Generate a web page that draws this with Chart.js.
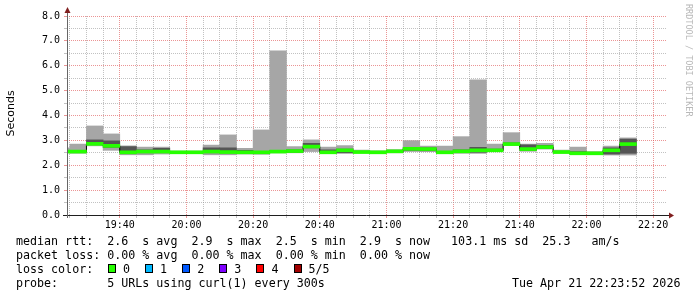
<!DOCTYPE html>
<html><head><meta charset="utf-8">
<script src="https://cdn.jsdelivr.net/npm/chart.js@4/dist/chart.umd.min.js"></script>
<style>
html,body{margin:0;padding:0;background:#fff;}
#wrap{position:relative;width:697px;height:297px;overflow:hidden;background:#fff;}
#c{position:absolute;left:0;top:0;}
.lg{position:absolute;left:16px;font-family:'DejaVu Sans Mono',monospace;font-size:11.66px;line-height:14px;white-space:pre;color:#000;}
.box{position:absolute;width:6px;height:7px;border:1px solid #000;}
</style></head><body>
<div id="wrap">
<canvas id="c" width="697" height="297"></canvas>
<div id="legend"></div>
</div>
<script>
// ---- data ----
const binStarts = ['19:20','19:25','19:30','19:35','19:40','19:45','19:50','19:55','20:00','20:05',
  '20:10','20:15','20:20','20:25','20:30','20:35','20:40','20:45','20:50','20:55',
  '21:00','21:05','21:10','21:15','21:20','21:25','21:30','21:35','21:40','21:45',
  '21:50','21:55','22:00','22:05','22:10'];
const pingMin    = [2.50,2.48,2.78,2.60,2.42,2.42,2.45,2.50,2.50,2.42, 2.42,2.45,2.44,2.50,2.50,2.55,2.48,2.48,2.50,2.50, 2.50,2.55,2.55,2.48,2.48,2.48,2.57,2.80,2.56,2.65, 2.50,2.45,2.45,2.41,2.41];
const pingLow    = [2.52,2.52,2.84,2.72,2.50,2.50,2.52,2.51,2.51,2.50, 2.50,2.50,2.48,2.52,2.52,2.70,2.50,2.50,2.51,2.51, 2.52,2.60,2.58,2.50,2.52,2.52,2.58,2.82,2.60,2.68, 2.50,2.46,2.46,2.45,2.48];
const pingMedian = [2.55,2.55,2.86,2.78,2.52,2.55,2.55,2.52,2.52,2.55, 2.53,2.52,2.52,2.55,2.57,2.75,2.52,2.60,2.53,2.52, 2.56,2.66,2.65,2.52,2.56,2.60,2.60,2.85,2.65,2.73, 2.53,2.48,2.48,2.60,2.85];
const pingHigh   = [2.60,2.60,3.02,2.98,2.75,2.62,2.68,2.55,2.55,2.70, 2.70,2.60,2.56,2.60,2.62,2.88,2.62,2.65,2.56,2.55, 2.60,2.70,2.70,2.56,2.62,2.72,2.65,2.90,2.82,2.80, 2.56,2.55,2.50,2.70,3.05];
const pingMax    = [2.70,2.85,3.58,3.26,2.78,2.73,2.73,2.57,2.57,2.81, 3.22,2.68,3.42,6.60,2.75,3.02,2.73,2.79,2.61,2.58, 2.63,2.99,2.77,2.77,3.15,5.43,2.85,3.31,2.85,2.88, 2.61,2.73,2.55,2.77,3.10];
const xTickLabels = ['19:40','20:00','20:20','20:40','21:00','21:20','21:40','22:00','22:20'];
const yTickLabels = ['0.0','1.0','2.0','3.0','4.0','5.0','6.0','7.0','8.0'];
const viewStart = '19:24:10', viewEnd = '22:24:10';
const statLine1 = 'median rtt:  2.6  s avg  2.9  s max  2.5  s min  2.9  s now   103.1 ms sd  25.3   am/s';
const statLine2 = 'packet loss: 0.00 % avg  0.00 % max  0.00 % min  0.00 % now';
const lossLabels = ['0','1','2','3','4','5/5'];
const lossColors = ['#26ff00','#00b8ff','#0059ff','#7e00ff','#ff0000','#a10000'];
const probeText = 'probe:       5 URLs using curl(1) every 300s';
const dateText = 'Tue Apr 21 22:23:52 2026';

// ---- helpers ----
const toMin = s => { const p = s.split(':').map(Number); return (p[0]-19)*60 + p[1] + (p[2]||0)/60; };
const BIN = 5;
const centers = binStarts.map(s => toMin(s) + BIN/2);
const BAND = 0.06;
const MAJOR_RED = 'rgba(222,79,79,0.6)';
const MINOR_GRAY = 'rgba(143,143,143,0.55)';

const barCommon = {type:'bar', grouped:false, barPercentage:1, categoryPercentage:1, borderWidth:0};

const decor = {
  id:'decor',
  afterDraw(chart){
    const ctx = chart.ctx, a = chart.chartArea;
    ctx.save();
    ctx.lineWidth = 1;
    ctx.strokeStyle = '#1f1f1f';
    ctx.beginPath(); ctx.moveTo(a.left-4, a.bottom+0.5); ctx.lineTo(a.right+3, a.bottom+0.5); ctx.stroke();
    ctx.strokeStyle = '#666';
    ctx.beginPath(); ctx.moveTo(a.left+0.5, a.bottom+3); ctx.lineTo(a.left+0.5, a.top-4); ctx.stroke();
    ctx.fillStyle = 'rgb(128,31,31)';
    ctx.beginPath(); ctx.moveTo(a.left-2.5, a.top-3); ctx.lineTo(a.left+3.5, a.top-3); ctx.lineTo(a.left+0.5, a.top-9); ctx.closePath(); ctx.fill();
    ctx.beginPath(); ctx.moveTo(a.right+2, a.bottom-2.5); ctx.lineTo(a.right+2, a.bottom+3.5); ctx.lineTo(a.right+7, a.bottom+0.5); ctx.closePath(); ctx.fill();
    ctx.fillStyle = '#000';
    ctx.font = '11px "DejaVu Sans"';
    ctx.textAlign = 'center'; ctx.textBaseline = 'middle';
    ctx.translate(11, 113.5); ctx.rotate(-Math.PI/2);
    ctx.fillText('Seconds', 0, 0);
    ctx.restore();
    ctx.save();
    ctx.fillStyle = '#b8b8b8';
    ctx.font = '8.5px "DejaVu Sans Mono"';
    ctx.textAlign = 'left'; ctx.textBaseline = 'middle';
    ctx.translate(688, 4); ctx.rotate(Math.PI/2);
    ctx.fillText('RRDTOOL / TOBI OETIKER', 0, 0);
    ctx.restore();
  }
};

new Chart(document.getElementById('c'), {
  type:'bar',
  data:{datasets:[
    Object.assign({}, barCommon, {label:'smoke outer', order:4, backgroundColor:'#a6a6a6',
      data: centers.map((x,i)=>({x, y:[pingMin[i], pingMax[i]]}))}),
    Object.assign({}, barCommon, {label:'smoke inner', order:3, backgroundColor:'#555555',
      data: centers.map((x,i)=>({x, y:[pingLow[i], pingHigh[i]]}))}),
    {type:'line', label:'median', order:2, borderColor:'#000', borderWidth:1, stepped:'middle',
      pointRadius:0, fill:false, data: centers.map((x,i)=>({x, y:pingMedian[i]}))},
    Object.assign({}, barCommon, {label:'loss 0', order:1, backgroundColor:'#26ff00',
      data: centers.map((x,i)=>({x, y:[pingMedian[i]-BAND, pingMedian[i]+BAND]}))})
  ]},
  options:{
    responsive:false, animation:false, devicePixelRatio:1,
    layout:{padding:{left:0, top:16, right:30, bottom:62}},
    plugins:{legend:{display:false}, tooltip:{enabled:false}},
    scales:{
      x:{type:'linear', min:toMin(viewStart), max:toMin(viewEnd), offset:false,
        afterFit(s){ s.height = 20; },
        afterBuildTicks(s){ const t=[]; for(let m=25;m<=s.max;m+=5) t.push({value:m}); s.ticks=t; },
        ticks:{autoSkip:false, maxRotation:0, minRotation:0, padding:1, color:'#000',
          font:{family:'DejaVu Sans Mono', size:10},
          callback:v => (v%20===0 && v>=40) ? xTickLabels[(v-40)/20] : ''},
        grid:{offset:false, tickLength:3, lineWidth:1,
          color:c => (c.tick && c.tick.value%20===0) ? MAJOR_RED : MINOR_GRAY},
        border:{display:false, dash:[1,1]}
      },
      y:{type:'linear', min:0, max:8,
        afterFit(s){ s.width = 67; },
        ticks:{stepSize:0.5, autoSkip:false, padding:4, color:'#000',
          font:{family:'DejaVu Sans Mono', size:10},
          callback:v => Number.isInteger(v) ? yTickLabels[v] : ''},
        grid:{tickLength:3, lineWidth:1,
          color:c => (c.tick && Number.isInteger(c.tick.value)) ? MAJOR_RED : MINOR_GRAY},
        border:{display:false, dash:[1,1]}
      }
    }
  },
  plugins:[decor]
});

const lg = document.getElementById('legend');
function addLine(text, top, left){
  const d = document.createElement('div'); d.className='lg'; d.textContent=text;
  d.style.top = top+'px'; if(left!==undefined) d.style.left = left+'px';
  lg.appendChild(d); return d;
}
addLine(statLine1, 234);
addLine(statLine2, 248);
addLine('loss color:', 262);
lossLabels.forEach((lab,i)=>{
  const bx = 108 + 37.1*i;
  const b = document.createElement('div'); b.className='box';
  b.style.left = bx+'px'; b.style.top = '264px'; b.style.background = lossColors[i];
  lg.appendChild(b);
  addLine(lab, 262, bx+15);
});
addLine(probeText, 276);
addLine(dateText, 276, 512);
</script>
</body></html>
